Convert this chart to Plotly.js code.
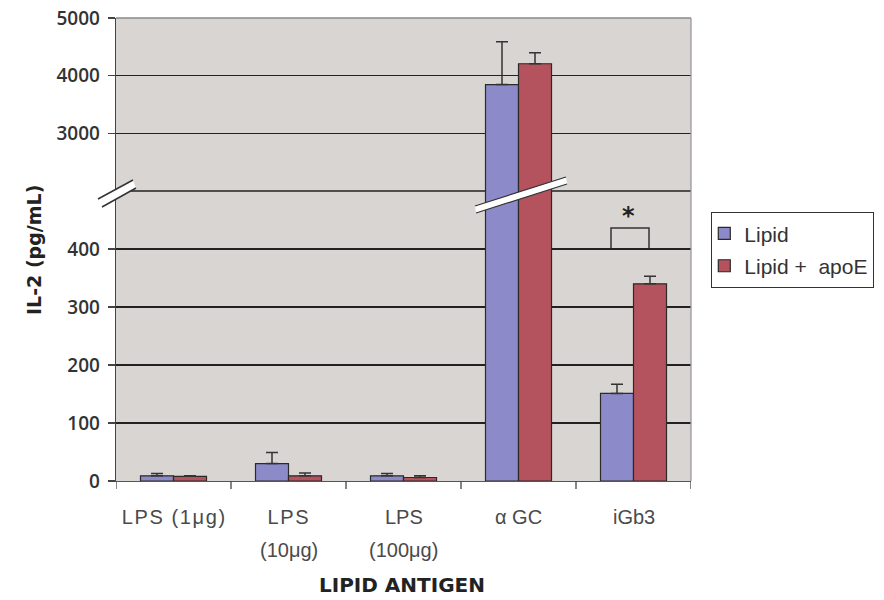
<!DOCTYPE html>
<html>
<head>
<meta charset="utf-8">
<script src="https://cdn.plot.ly/plotly-3.0.1.min.js"></script>
<style>
html,body{margin:0;padding:0;background:#fff;}
#chart{width:884px;height:600px;}
#chart .annotation:nth-of-type(-n+7) text{letter-spacing:1.6px;}
</style>
</head>
<body>
<div id="chart"></div>
<script>
// ---- data ----
var categories = ["LPS (1μg)", "LPS<br>(10μg)", "LPS<br>(100μg)", "α GC", "iGb3"];
var seriesNames = ["Lipid", "Lipid +  apoE"];
var lipid = [9, 30, 9, 3845, 151];
var lipidErr = [4, 19, 4, 745, 16];
var apoe = [8, 9, 6, 4207, 340];
var apoeErr = [1, 5, 3, 190, 13];
var lowerTicks = [0, 100, 200, 300, 400];
var upperTicks = [3000, 4000, 5000];
var lowerRange = [0, 500];
var upperRange = [2000, 5000];
var xTitle = "LIPID ANTIGEN";
var yTitle = "IL-2 (pg/mL)";
var sigMark = "*";

// ---- styling ----
var BLUE = "#8c8ac8", RED = "#b4525e", EDGE = "#2a2a2a";
var L = 116, R = 691, T = 18, B = 481;
var PW = R - L, PH = B - T;
function px(x){ return (x - L) / PW; }
function py(y){ return (B - y) / PH; }
var split = py(191);

var idx = categories.map(function(c, i){ return i; });

function barTrace(name, y, err, color, yaxis, show){
  return {
    type: "bar", name: name, x: idx, y: y, yaxis: yaxis,
    showlegend: show, legendgroup: name, hoverinfo: "skip",
    marker: {color: color, line: {color: EDGE, width: 1.2}},
    error_y: {type: "data", symmetric: false, array: err,
              arrayminus: err.map(function(){ return 0; }),
              color: "#333", thickness: 1.5, width: 6}
  };
}

var data = [
  barTrace(seriesNames[0], lipid, lipidErr, BLUE, "y", true),
  barTrace(seriesNames[1], apoe, apoeErr, RED, "y", true),
  barTrace(seriesNames[0], lipid, lipidErr, BLUE, "y2", false),
  barTrace(seriesNames[1], apoe, apoeErr, RED, "y2", false)
];

var tickFont = {family: "Open Sans, sans-serif", size: 19, weight: 600, color: "#333"};

var annotations = [];
categories.forEach(function(c, i){
  var parts = c.split("<br>");
  parts.forEach(function(p, k){
    annotations.push({
      xref: "x", yref: "paper", x: i, y: py(517 + k * 33),
      text: p, showarrow: false, xanchor: "center", yanchor: "middle",
      font: {family: "Liberation Sans, Arial, sans-serif", size: 20, color: "#4a4a4a"}
    });
  });
});
annotations.push({
  xref: "paper", yref: "paper", x: px(402), y: py(585), text: xTitle,
  showarrow: false, xanchor: "center", yanchor: "middle",
  font: {family: "DejaVu Sans, sans-serif", size: 20, weight: 700, color: "#222"}
});
annotations.push({
  xref: "paper", yref: "paper", x: px(34), y: py(250), text: yTitle,
  textangle: -90, showarrow: false, xanchor: "center", yanchor: "middle",
  font: {family: "DejaVu Sans, sans-serif", size: 19, weight: 700, color: "#222"}
});
annotations.push({
  xref: "paper", yref: "paper", x: px(628), y: py(216), text: sigMark,
  showarrow: false, xanchor: "center", yanchor: "middle",
  font: {family: "DejaVu Sans, sans-serif", size: 24, weight: 700, color: "#222"}
});

function P(x, y){ return px(x).toFixed(5) + "," + py(y).toFixed(5); }
var shapes = [
  // break gridline (shared boundary)
  {type: "line", xref: "paper", yref: "paper", x0: 0, x1: 1, y0: split, y1: split,
   line: {color: "#222", width: 1.3}, layer: "below"},
  // top & right frame
  {type: "line", xref: "paper", yref: "paper", x0: 0, x1: 1, y0: 1, y1: 1,
   line: {color: "#8a8a8a", width: 1.3}},
  {type: "line", xref: "paper", yref: "paper", x0: 1, x1: 1, y0: 0, y1: 1,
   line: {color: "#9a9a9a", width: 1.3}},
  // break band across the alpha GC bars
  {type: "path", xref: "paper", yref: "paper",
   path: "M" + P(475,206) + " L" + P(566,177) + " L" + P(567,184) + " L" + P(476,213) + " Z",
   fillcolor: "#ffffff", line: {width: 0}},
  {type: "line", xref: "paper", yref: "paper", x0: px(475), y0: py(206), x1: px(566), y1: py(177),
   line: {color: "#333", width: 1.2}},
  {type: "line", xref: "paper", yref: "paper", x0: px(476), y0: py(213), x1: px(567), y1: py(184),
   line: {color: "#333", width: 1.2}},
  // axis break marks
  {type: "path", xref: "paper", yref: "paper",
   path: "M" + P(98,199) + " L" + P(133,180) + " L" + P(136,188) + " L" + P(102,207) + " Z",
   fillcolor: "#ffffff", line: {width: 0}},
  {type: "line", xref: "paper", yref: "paper", x0: px(98), y0: py(199), x1: px(133), y1: py(180),
   line: {color: "#333", width: 1.5}},
  {type: "line", xref: "paper", yref: "paper", x0: px(102), y0: py(207), x1: px(136), y1: py(188),
   line: {color: "#333", width: 1.5}},
  // significance bracket
  {type: "path", xref: "paper", yref: "paper",
   path: "M" + P(611,248) + " L" + P(611,228) + " L" + P(649,228) + " L" + P(649,248),
   line: {color: "#333", width: 1.5}}
];

var layout = {
  width: 884, height: 600,
  margin: {l: L, r: 884 - R, t: T, b: 600 - B, autoexpand: false},
  paper_bgcolor: "#ffffff", plot_bgcolor: "#d9d5d3",
  barmode: "group", bargap: 0.426, bargroupgap: 0,
  showlegend: true,
  legend: {
    x: px(711), y: py(212), xanchor: "left", yanchor: "top",
    bgcolor: "#ffffff", bordercolor: "#333", borderwidth: 1.3,
    font: {family: "Liberation Sans, Arial, sans-serif", size: 21, color: "#333"},
    traceorder: "grouped", tracegroupgap: 2, itemclick: false,
    indentation: -8
  },
  xaxis: {
    type: "linear", range: [-0.5, categories.length - 0.5],
    tickvals: idx, showticklabels: false, showgrid: false, zeroline: false,
    showline: true, linecolor: "#555", linewidth: 1.3,
    ticks: "", fixedrange: true
  },
  yaxis: {
    domain: [0, split], range: lowerRange, tickvals: lowerTicks,
    showgrid: true, gridcolor: "#222", gridwidth: 1.3, zeroline: false,
    showline: true, linecolor: "#444", linewidth: 1.3,
    ticks: "outside", ticklen: 7, tickcolor: "#444", tickwidth: 1.3,
    tickfont: tickFont, ticklabelstandoff: 4, fixedrange: true
  },
  yaxis2: {
    domain: [split, 1], range: upperRange, tickvals: upperTicks, anchor: "x",
    showgrid: true, gridcolor: "#222", gridwidth: 1.3, zeroline: false,
    showline: true, linecolor: "#444", linewidth: 1.3,
    ticks: "outside", ticklen: 7, tickcolor: "#444", tickwidth: 1.3,
    tickfont: tickFont, ticklabelstandoff: 4, fixedrange: true
  },
  annotations: annotations,
  shapes: shapes
};

// x-axis boundary ticks as short line shapes at category edges
for (var i = 0; i <= categories.length; i++) {
  shapes.push({type: "line", xref: "x", yref: "paper", x0: i - 0.5, x1: i - 0.5,
    y0: 0, y1: py(489), line: {color: "#444", width: 1.3}});
}

Plotly.newPlot("chart", data, layout, {staticPlot: true});
</script>
</body>
</html>
